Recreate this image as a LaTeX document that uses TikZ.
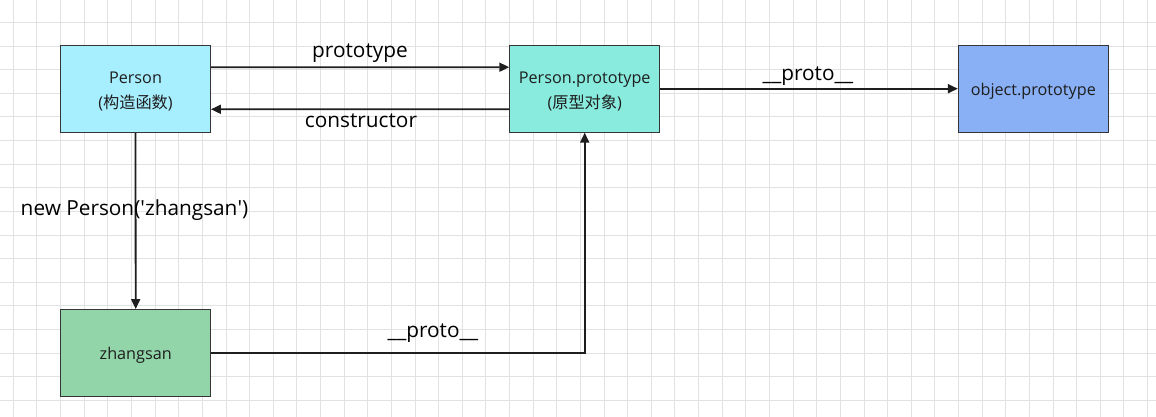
\documentclass[tikz,border=0pt]{standalone}
\usepackage{fontspec}
\setmainfont{Open Sans}
\newfontfamily\cjk{Noto Sans CJK SC}
\usetikzlibrary{arrows.meta}
\definecolor{gridc}{HTML}{E2E2E2}
\definecolor{linec}{HTML}{1E1E1E}
\definecolor{cPerson}{HTML}{A7EEFE}
\definecolor{cProto}{HTML}{88EBDD}
\definecolor{cObj}{HTML}{89B0F5}
\definecolor{cZhang}{HTML}{91D5A9}
\tikzset{
  box/.style={draw=linec!90, line width=0.9pt, minimum width=150pt, minimum height=87pt,
    inner sep=0pt},
  boxtext/.style={inner sep=0pt, align=center, font=\fontsize{16.2}{25}\selectfont, text=linec},
  arr/.style={draw=linec, line width=1.8pt, -{Triangle[length=10pt,width=9pt]}},
  lbl/.style={font=\fontsize{20.8}{24}\selectfont, text=black, inner sep=0pt},
  gridline/.style={draw=gridc, line width=0.9pt}
}
\begin{document}
\begin{tikzpicture}[x=1pt,y=-1pt]
\useasboundingbox (0,0) rectangle (1156,417);
\fill[white] (0,0) rectangle (1156,417);
\foreach \i in {0,...,48} {\draw[gridline] ({13.3+23.63*\i},0) -- ({13.3+23.63*\i},417);}
\foreach \j in {0,...,17} {\draw[gridline] (0,{-1.3+23.63*\j}) -- (1156,{-1.3+23.63*\j});}
\node[box, fill=cPerson] (P) at (135.5,88.8) {};
\node[box, fill=cProto] (PP) at (584.7,88.7) {};
\node[box, fill=cObj] (OP) at (1033.3,88.7) {};
\node[box, fill=cZhang] (Z) at (135.7,353) {};
\node[boxtext] (Pt) at ([yshift=-3pt]P.center) {Person\\({\cjk 构造函数})};
\node[boxtext] (PPt) at ([yshift=-3pt]PP.center) {Person.prototype\\({\cjk 原型对象})};
\node[boxtext] (OPt) at ([yshift=-3pt]OP.center) {object.prototype};
\node[boxtext] (Zt) at ([yshift=-2pt]Z.center) {zhangsan};
\draw[arr] ([yshift=21.5pt]P.east) -- ([yshift=21.5pt]PP.west);
\draw[arr] ([yshift=-20.5pt]PP.west) -- ([yshift=-20.5pt]P.east);
\draw[arr] (PP.east) -- (OP.west);
\draw[arr] (P.south) -- (Z.north);
\draw[arr] (Z.east) -| (PP.south);
\node[lbl] (l1) at (360,53) {prototype};
\node[lbl] (l2) at (361,121) {constructor};
\node[lbl] (l3) at (808,76) {\_\_proto\_\_};
\node[lbl] (l4) at (433,333) {\_\_proto\_\_};
\node[lbl] (l5) at (134.5,210) {new Person(\textquotesingle zhangsan\textquotesingle)};
\end{tikzpicture}
\end{document}
